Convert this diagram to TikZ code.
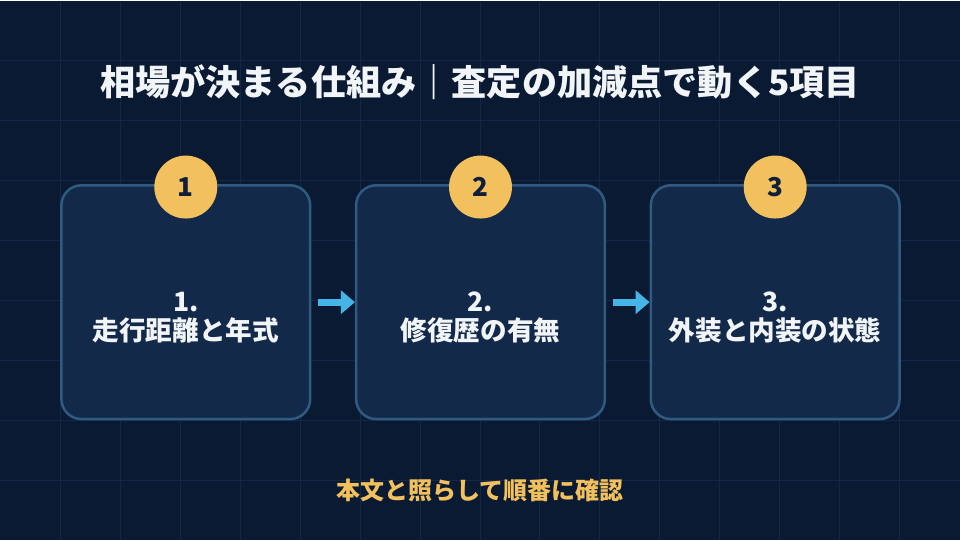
\documentclass[tikz,border=0pt]{standalone}
\usepackage{fontspec}
\setmainfont{Noto Sans CJK JP}
\usetikzlibrary{positioning,arrows.meta}
\definecolor{bgnavy}{HTML}{0A1A33}
\definecolor{gridnavy}{HTML}{13274A}
\definecolor{boxfill}{HTML}{12294A}
\definecolor{boxedge}{HTML}{315A80}
\definecolor{badgegold}{HTML}{F2C05C}
\definecolor{badgeink}{HTML}{0F1F3A}
\definecolor{flowcyan}{HTML}{45B5E8}
\definecolor{softwhite}{HTML}{F2F5F8}

\begin{document}
\begin{tikzpicture}[x=1pt,y=-1pt,
  stepbox/.style={draw=boxedge,line width=2.5pt,fill=boxfill,rounded corners=20pt,
    minimum width=249pt,minimum height=234pt},
  boxtext/.style={text=softwhite,align=center,font=\fontsize{26.6pt}{29pt}\selectfont\bfseries},
  badge/.style={circle,fill=badgegold,minimum size=63pt,inner sep=0pt,text=badgeink,
    font=\fontsize{26pt}{28pt}\selectfont\bfseries},
  flowarrow/.style={draw=flowcyan,line width=7pt,shorten <=7pt,
    -{Triangle[length=14pt,width=23pt]}},
  gridline/.style={draw=gridnavy,line width=1pt}]
  % background and grid
  \fill[bgnavy] (0,0) rectangle (960,540);
  \foreach \x in {60,120,...,900} \draw[gridline] (\x,0) -- (\x,540);
  \foreach \y in {60,120,...,480} \draw[gridline] (0,\y) -- (960,\y);
  \useasboundingbox (0,0) rectangle (960,540);
  % title
  \node[text=softwhite,font=\fontsize{35.2pt}{40pt}\selectfont\bfseries] (title) at (480,82)
    {相場が決まる仕組み｜査定の加減点で動く5項目};
  % three step boxes with badges
  \foreach \i/\cx/\lab in {1/185.5/{1.\\走行距離と年式},2/480.5/{2.\\修復歴の有無},3/775.5/{3.\\外装と内装の状態}}{
    \node[stepbox] (b\i) at (\cx,302) {};
    \node[boxtext] (l\i) at ([yshift=-15pt]b\i.center) {\lab};
    \node[badge] (n\i) at ([yshift=-3pt]b\i.north) {\i};
  }
  % flow arrows
  \draw[flowarrow] (b1.east) -- (b2.west);
  \draw[flowarrow] (b2.east) -- (b3.west);
  % footer note
  \node[text=badgegold,font=\fontsize{24pt}{28pt}\selectfont\bfseries] (note) at (480,490)
    {本文と照らして順番に確認};
\end{tikzpicture}
\end{document}
